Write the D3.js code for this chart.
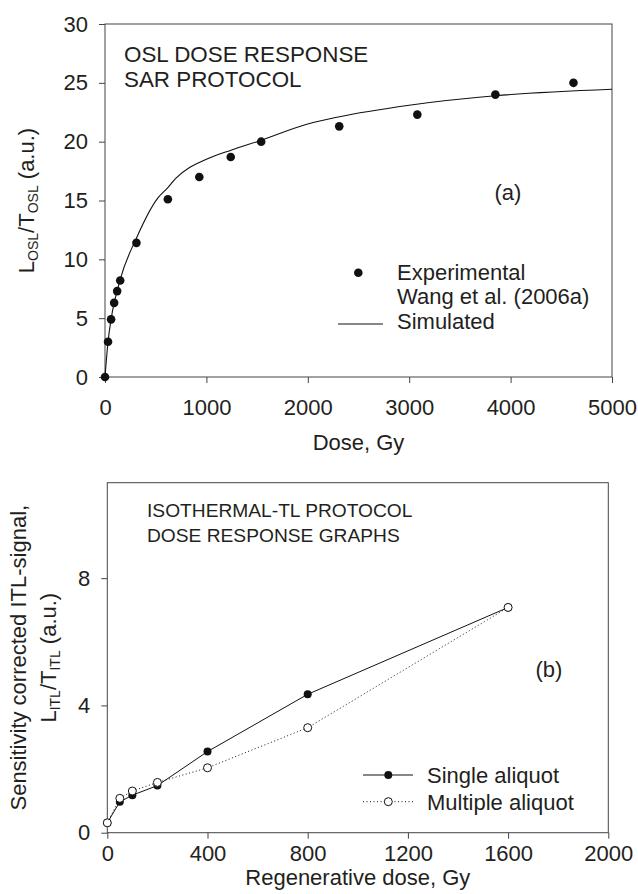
<!DOCTYPE html>
<html>
<head>
<meta charset="utf-8">
<title>dose response</title>
<script src="https://cdn.jsdelivr.net/npm/d3@7"></script>
<style>
body{margin:0;background:#fff}
text{font-family:"Liberation Sans",Arial,sans-serif;fill:#231f20}
</style>
</head>
<body>
<div id="root"></div>
<script>
// (a) OSL dose response, SAR protocol
let expDose = [0,30,60,90,120,150,310,620,930,1240,1540,2310,3080,3850,4620]
let expRatio = [0,3.0,4.9,6.3,7.3,8.2,11.4,15.1,17.0,18.7,20.0,21.3,22.3,24.0,25.0]
let simDose = [0,30,60,90,120,150,310,520,620,700,1000,1250,1500,2000,2300,3000,3850,5000]
let simRatio = [0,3.0,4.9,6.3,7.3,8.3,11.8,15.2,16.1,16.9,18.5,19.3,20.0,21.5,22.1,23.1,23.9,24.45]
let xTicksA = [0,1000,2000,3000,4000,5000]
let yTicksA = [0,5,10,15,20,25,30]

// (b) isothermal-TL dose response
let regenDose = [0,50,100,200,400,800,1600]
let singleAliquot = [0.31,0.97,1.18,1.48,2.55,4.35,7.08]
let multipleAliquot = [0.31,1.08,1.31,1.58,2.04,3.30,7.08]
let xTicksB = [0,400,800,1200,1600,2000]
let yTicksB = [0,4,8]

let width = 638, height = 894, fs = 22, axisColor = "#444", fmt = d3.format("d")

let svg = d3.select("#root").append("svg").attr("width",width).attr("height",height)

function styleAxis(g){
    g.select(".domain").remove()
    g.selectAll(".tick line").attr("stroke",axisColor)
    g.selectAll(".tick text").style("font-size",fs+"px").attr("fill","#231f20").attr("font-family",null)
}

function frame(x,y){
    let [x0,x1] = x.range(), [y0,y1] = y.range()
    svg.append("rect").attr("x",x0).attr("y",y1).attr("width",x1-x0).attr("height",y0-y1)
        .attr("fill","none").attr("stroke",axisColor).attr("stroke-width",1)
}

// ---------------- panel a ----------------
let xa = d3.scaleLinear().domain([0,5000]).range([105,612])
let ya = d3.scaleLinear().domain([0,30]).range([377,24])

svg.append("g").attr("transform","translate(0,"+ya(0)+")")
    .call(d3.axisBottom(xa).tickValues(xTicksA).tickFormat(fmt).tickSize(6).tickPadding(16).tickSizeOuter(0)).call(styleAxis)
svg.append("g").attr("transform","translate("+xa(0)+",0)")
    .call(d3.axisLeft(ya).tickValues(yTicksA).tickFormat(fmt).tickSize(6).tickPadding(11).tickSizeOuter(0)).call(styleAxis)
frame(xa,ya)

let simLine = d3.line().x(d=>xa(d[0])).y(d=>ya(d[1])).curve(d3.curveMonotoneX)
svg.append("path").datum(d3.zip(simDose,simRatio)).attr("d",simLine)
    .attr("fill","none").attr("stroke","#111").attr("stroke-width",1.1)

svg.append("g").selectAll("circle").data(d3.zip(expDose,expRatio)).join("circle")
    .attr("cx",d=>xa(d[0])).attr("cy",d=>ya(d[1])).attr("r",4.3).attr("fill","#111")

svg.append("text").attr("x",124).attr("y",62).style("font-size","22.4px").text("OSL DOSE RESPONSE")
svg.append("text").attr("x",124).attr("y",87).style("font-size","22.4px").text("SAR PROTOCOL")
svg.append("text").attr("x",508).attr("y",200).attr("text-anchor","middle").style("font-size",fs+"px").text("(a)")

// legend a
svg.append("circle").attr("cx",358.3).attr("cy",272.7).attr("r",4.3).attr("fill","#111")
svg.append("text").attr("x",397).attr("y",279.5).style("font-size",fs+"px").text("Experimental")
svg.append("text").attr("x",397).attr("y",304).style("font-size",fs+"px").text("Wang et al. (2006a)")
svg.append("line").attr("x1",338).attr("x2",383).attr("y1",324).attr("y2",324).attr("stroke","#111")
svg.append("text").attr("x",397).attr("y",329).style("font-size",fs+"px").text("Simulated")

svg.append("text").attr("x",(xa(0)+xa(5000))/2).attr("y",450).attr("text-anchor","middle")
    .style("font-size",fs+"px").text("Dose, Gy")

let ta = svg.append("text").attr("transform","translate(34,"+((ya(0)+ya(30))/2)+") rotate(-90)")
    .attr("text-anchor","middle").style("font-size",fs+"px")
ta.append("tspan").text("L")
ta.append("tspan").attr("dy",4).style("font-size","14px").text("OSL")
ta.append("tspan").attr("dy",-4).text("/T")
ta.append("tspan").attr("dy",4).style("font-size","14px").text("OSL")
ta.append("tspan").attr("dy",-4).text(" (a.u.)")

// ---------------- panel b ----------------
let xb = d3.scaleLinear().domain([0,2000]).range([107.3,608.3])
let yb = d3.scaleLinear().domain([0,11]).range([832.7,482.7])

svg.append("g").attr("transform","translate(0,"+yb(0)+")")
    .call(d3.axisBottom(xb).tickValues(xTicksB).tickFormat(fmt).tickSize(6).tickPadding(7).tickSizeOuter(0)).call(styleAxis)
svg.append("g").attr("transform","translate("+xb(0)+",0)")
    .call(d3.axisLeft(yb).tickValues(yTicksB).tickFormat(fmt).tickSize(6).tickPadding(11).tickSizeOuter(0)).call(styleAxis)
frame(xb,yb)

let lineB = d3.line().x(d=>xb(d[0])).y(d=>yb(d[1]))
svg.append("path").datum(d3.zip(regenDose,multipleAliquot)).attr("d",lineB)
    .attr("fill","none").attr("stroke","#111").attr("stroke-width",1).attr("stroke-dasharray","1,2.5")
svg.append("path").datum(d3.zip(regenDose,singleAliquot)).attr("d",lineB)
    .attr("fill","none").attr("stroke","#111").attr("stroke-width",1)

svg.append("g").selectAll("circle").data(d3.zip(regenDose,singleAliquot)).join("circle")
    .attr("cx",d=>xb(d[0])).attr("cy",d=>yb(d[1])).attr("r",4).attr("fill","#111")
svg.append("g").selectAll("circle").data(d3.zip(regenDose,multipleAliquot)).join("circle")
    .attr("cx",d=>xb(d[0])).attr("cy",d=>yb(d[1])).attr("r",4).attr("fill","#fff").attr("stroke","#111").attr("stroke-width",1)

svg.append("text").attr("x",147).attr("y",517).style("font-size","19.2px").text("ISOTHERMAL-TL PROTOCOL")
svg.append("text").attr("x",147).attr("y",542).style("font-size","19.2px").text("DOSE RESPONSE GRAPHS")
svg.append("text").attr("x",549).attr("y",677).attr("text-anchor","middle").style("font-size",fs+"px").text("(b)")

// legend b
svg.append("line").attr("x1",363).attr("x2",413).attr("y1",775).attr("y2",775).attr("stroke","#111")
svg.append("circle").attr("cx",388.3).attr("cy",775).attr("r",4).attr("fill","#111")
svg.append("text").attr("x",427).attr("y",783).style("font-size",fs+"px").text("Single aliquot")
svg.append("line").attr("x1",363).attr("x2",413).attr("y1",801.7).attr("y2",801.7).attr("stroke","#111").attr("stroke-dasharray","1,2.5")
svg.append("circle").attr("cx",388.3).attr("cy",801.7).attr("r",4).attr("fill","#fff").attr("stroke","#111")
svg.append("text").attr("x",427).attr("y",809.5).style("font-size",fs+"px").text("Multiple aliquot")

svg.append("text").attr("x",(xb(0)+xb(2000))/2).attr("y",885).attr("text-anchor","middle")
    .style("font-size",fs+"px").text("Regenerative dose, Gy")

let midB = (yb(0)+yb(11))/2
svg.append("text").attr("transform","translate(26,"+midB+") rotate(-90)")
    .attr("text-anchor","middle").style("font-size",fs+"px").text("Sensitivity corrected ITL-signal,")
let tb = svg.append("text").attr("transform","translate(56,"+midB+") rotate(-90)")
    .attr("text-anchor","middle").style("font-size",fs+"px")
tb.append("tspan").text("L")
tb.append("tspan").attr("dy",4).style("font-size","14px").text("ITL")
tb.append("tspan").attr("dy",-4).text("/T")
tb.append("tspan").attr("dy",4).style("font-size","14px").text("ITL")
tb.append("tspan").attr("dy",-4).text(" (a.u.)")
</script>
</body>
</html>
